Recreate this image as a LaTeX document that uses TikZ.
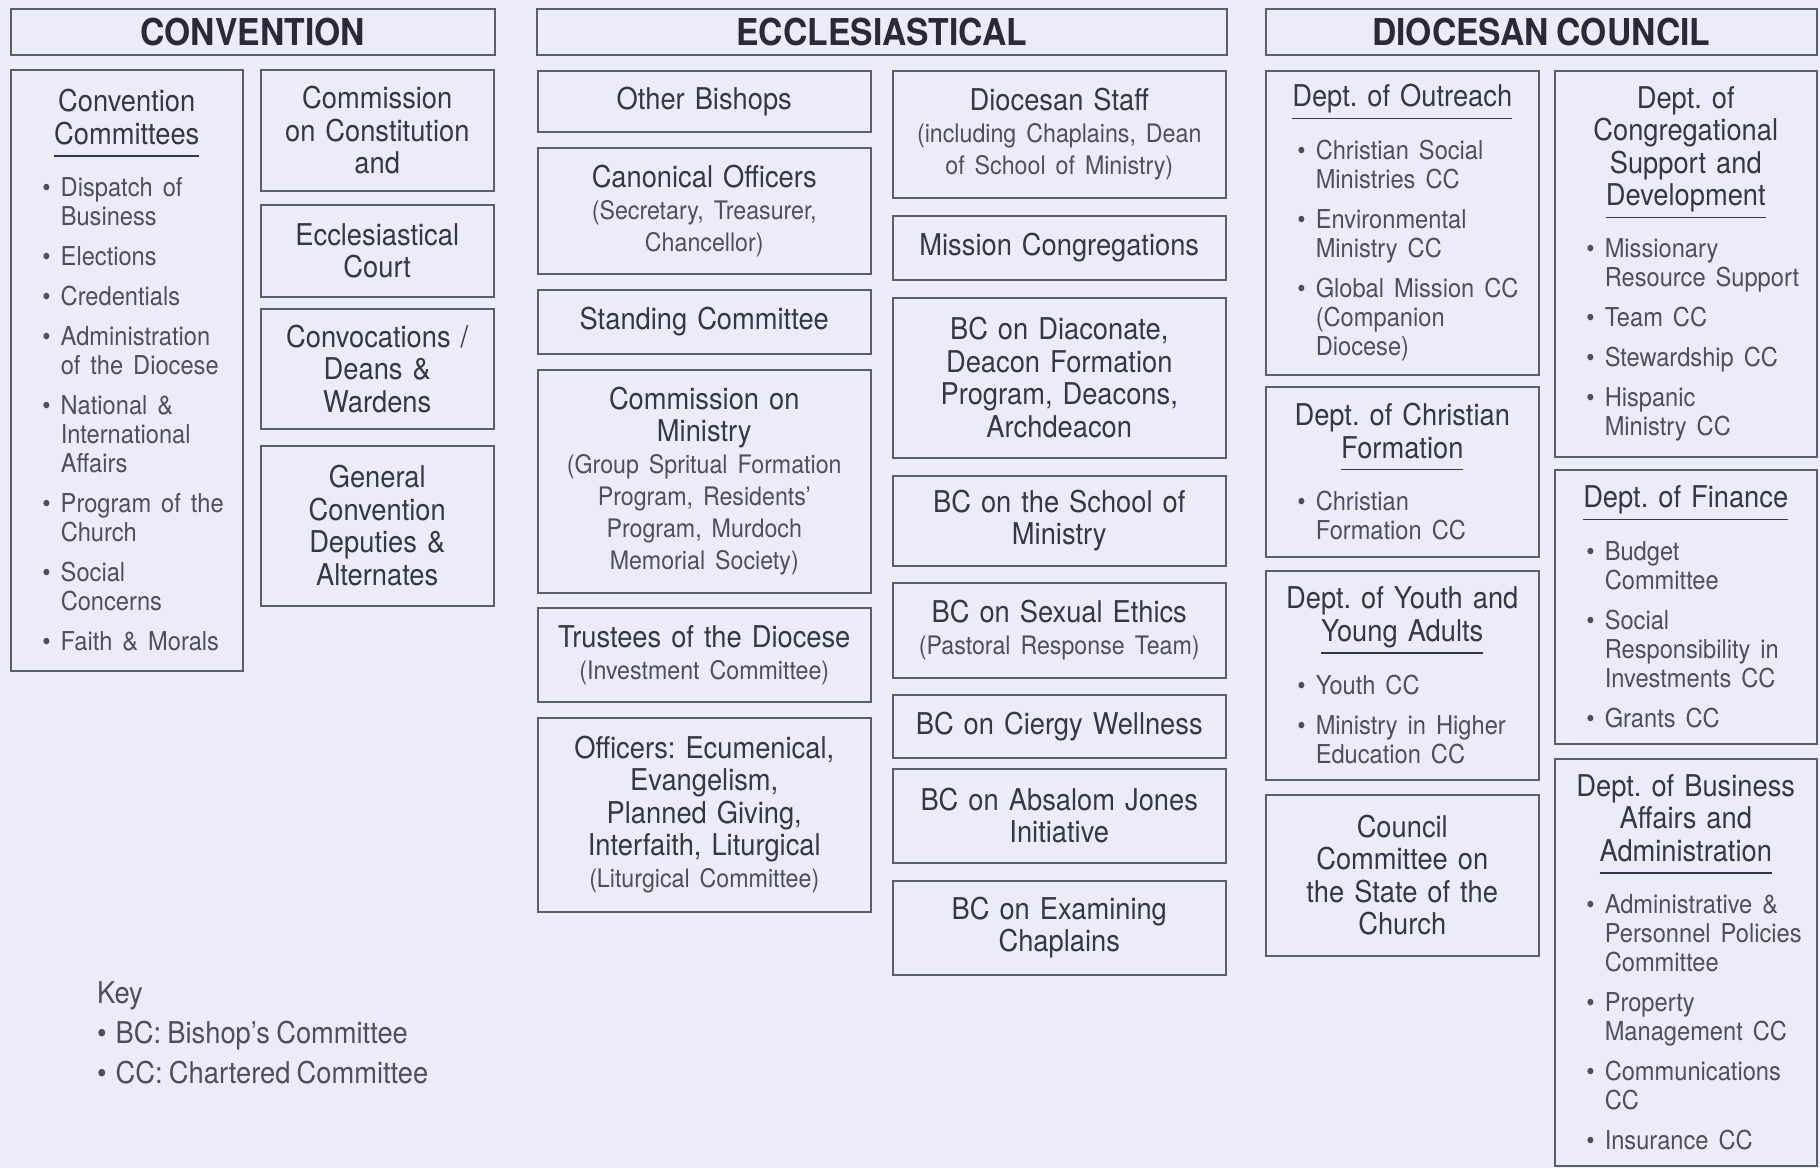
\documentclass[tikz,border=0pt]{standalone}
\usepackage{fontspec}
\setmainfont{TeX Gyre Heros}[FakeStretch=0.91, WordSpace=0.82]

\definecolor{bgcol}{HTML}{EBECF7}
\definecolor{boxline}{HTML}{5B5C6E}
\definecolor{inkdark}{HTML}{36364A}
\definecolor{inklight}{HTML}{4E4E60}
\definecolor{inkhead}{HTML}{2A2A36}

% text sizes
\newcommand\ttl{\fontsize{30}{32.5}\selectfont}
\newcommand\sub[1]{\par{\fontsize{25.5}{32}\selectfont\color{inklight}#1\par}}
\newcommand\hdline[1]{\leavevmode\vtop{\setbox0\hbox{#1}\dp0=0pt\box0\kern11pt\hrule height 1.3pt}}
\newcommand\dtitle[1]{#1\par\vspace{9pt}}
\newcommand\bitem[1]{\par\vspace{11pt}{\raggedright\leftskip=40pt\fontsize{26}{29}\selectfont\color{inklight}\noindent\llap{\textbullet\hspace{10pt}}#1\par}}

\tikzset{
  orgbox/.style={draw=boxline, line width=1.5pt, anchor=north west, inner sep=0pt,
    align=center, text=inkdark, font=\ttl},
  headbox/.style={orgbox, minimum height=46pt, text=inkhead,
    font=\fontsize{37}{40}\selectfont\bfseries},
  convL/.style={orgbox, minimum width=232pt, text width=212pt},
  convR/.style={orgbox, minimum width=233pt, text width=213pt},
  ecclL/.style={orgbox, minimum width=333pt, text width=313pt},
  ecclR/.style={orgbox, minimum width=333pt, text width=313pt},
  diocL/.style={orgbox, minimum width=273pt, text width=253pt},
  diocR/.style={orgbox, minimum width=262pt, text width=242pt},
}

\begin{document}
\frenchspacing
\begin{tikzpicture}[x=1pt, y=-1pt]
	\fill [bgcol] (0,0) rectangle (1820,1168);
	\useasboundingbox (0,0) rectangle (1820,1168);
	% convention
	\node [headbox, minimum width=484pt] (convhead) at (10,8) {CONVENTION};
	\node [convL, minimum height=601pt] (convcomm) at (10,69) {\dtitle{Convention\\ \hdline{Committees}}
		\bitem{Dispatch of\\Business}
		\bitem{Elections}
		\bitem{Credentials}
		\bitem{Administration\\of the Diocese}
		\bitem{National \&\\International\\Affairs}
		\bitem{Program of the\\Church}
		\bitem{Social\\Concerns}
		\bitem{Faith \& Morals}};
	\node [convR, minimum height=121pt] (constit) at (260,69) {Commission\\on Constitution\\and};
	\node [convR, minimum height=92pt] (court) at (260,204) {Ecclesiastical\\Court};
	\node [convR, minimum height=120pt] (convoc) at (260,308) {Convocations /\\Deans \&\\Wardens};
	\node [convR, minimum height=160pt] (genconv) at (260,445) {General\\Convention\\Deputies \&\\Alternates};
	% ecclesiastical
	\node [headbox, minimum width=690pt] (ecclhead) at (536,8) {ECCLESIASTICAL};
	\node [ecclL, minimum height=61pt] (bishops) at (537,70) {Other Bishops};
	\node [ecclL, minimum height=126pt] (canon) at (537,147) {Canonical Officers\sub{(Secretary, Treasurer,\\Chancellor)}};
	\node [ecclL, minimum height=64pt] (standing) at (537,289) {Standing Committee};
	\node [ecclL, minimum height=223pt] (ministry) at (537,369) {Commission on\\Ministry\sub{(Group Spritual Formation\\Program, Residents’\\Program, Murdoch\\Memorial Society)}};
	\node [ecclL, minimum height=94pt] (trustees) at (537,607) {Trustees of the Diocese\sub{(Investment Committee)}};
	\node [ecclL, minimum height=194pt] (officers) at (537,717) {Officers: Ecumenical,\\Evangelism,\\Planned Giving,\\Interfaith, Liturgical\sub{(Liturgical Committee)}};
	\node [ecclR, minimum height=127pt] (staff) at (892,70) {Diocesan Staff\sub{(including Chaplains, Dean\\of School of Ministry)}};
	\node [ecclR, minimum height=64pt] (mission) at (892,215) {Mission Congregations};
	\node [ecclR, minimum height=160pt] (diaconate) at (892,297) {BC on Diaconate,\\Deacon Formation\\Program, Deacons,\\Archdeacon};
	\node [ecclR, minimum height=90pt] (school) at (892,475) {BC on the School of\\Ministry};
	\node [ecclR, minimum height=95pt] (ethics) at (892,582) {BC on Sexual Ethics\sub{(Pastoral Response Team)}};
	\node [ecclR, minimum height=63pt] (wellness) at (892,694) {BC on Ciergy Wellness};
	\node [ecclR, minimum height=94pt] (absalom) at (892,768) {BC on Absalom Jones\\Initiative};
	\node [ecclR, minimum height=94pt] (examining) at (892,880) {BC on Examining\\Chaplains};
	% diocesan council
	\node [headbox, minimum width=551pt] (diochead) at (1265,8) {DIOCESAN COUNCIL};
	\node [diocL, minimum height=304pt] (outreach) at (1265,70) {\dtitle{\hdline{Dept. of Outreach}}
		\bitem{Christian Social\\Ministries CC}
		\bitem{Environmental\\Ministry CC}
		\bitem{Global Mission CC\\(Companion\\Diocese)}};
	\node [diocL, minimum height=170pt] (formation) at (1265,386) {\dtitle{Dept. of Christian\\ \hdline{Formation}}
		\bitem{Christian\\Formation CC}};
	\node [diocL, minimum height=209pt] (youth) at (1265,570) {\dtitle{Dept. of Youth and\\ \hdline{Young Adults}}
		\bitem{Youth CC}
		\bitem{Ministry in Higher\\Education CC}};
	\node [diocL, minimum height=161pt] (statecomm) at (1265,794) {Council\\Committee on\\the State of the\\Church};
	\node [diocR, minimum height=386pt] (congreg) at (1554,70) {\dtitle{Dept. of\\Congregational\\Support and\\ \hdline{Development}}
		\bitem{Missionary\\Resource Support}
		\bitem{Team CC}
		\bitem{Stewardship CC}
		\bitem{Hispanic\\Ministry CC}};
	\node [diocR, minimum height=274pt] (finance) at (1554,469) {\dtitle{\hdline{Dept. of Finance}}
		\bitem{Budget\\Committee}
		\bitem{Social\\Responsibility in\\Investments CC}
		\bitem{Grants CC}};
	\node [diocR, minimum height=407pt] (business) at (1554,758) {\dtitle{Dept. of Business\\Affairs and\\ \hdline{Administration}}
		\bitem{Administrative \&\\Personnel Policies\\Committee}
		\bitem{Property\\Management CC}
		\bitem{Communications\\CC}
		\bitem{Insurance CC}};
	% key
	\node [anchor=north west, align=left, inner sep=0pt, text=inklight,
		font=\fontsize{30}{40}\selectfont] (key) at (97,981)
		{Key\\\textbullet\hspace{9pt}BC: Bishop’s Committee\\\textbullet\hspace{9pt}CC: Chartered Committee};
\end{tikzpicture}
\end{document}
